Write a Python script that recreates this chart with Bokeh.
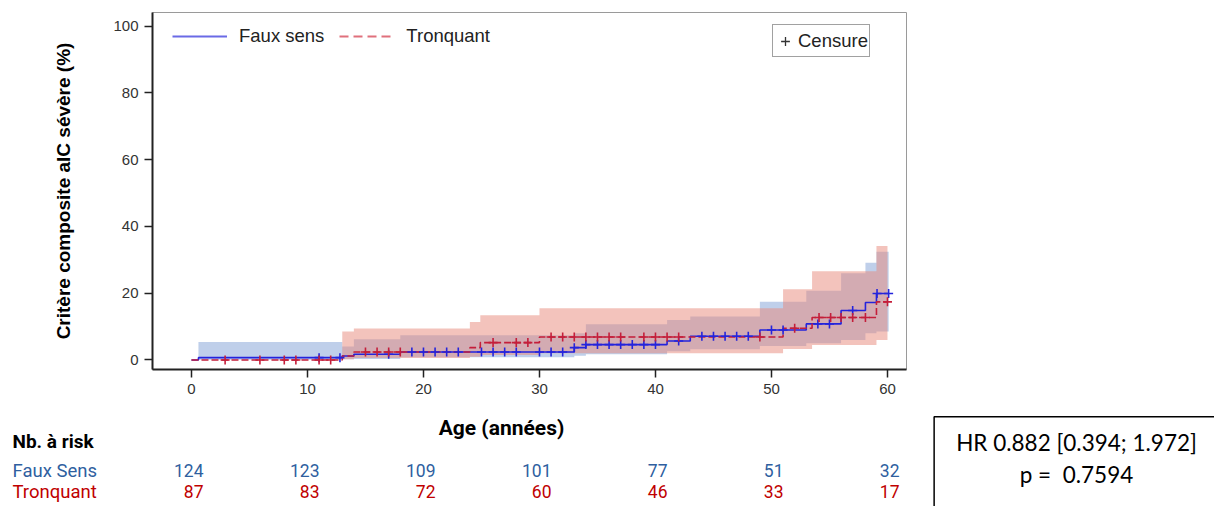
import numpy as np
from bokeh.plotting import figure
from bokeh.models import Legend, LegendItem, Label, Range1d, FixedTicker
from bokeh.embed import file_html
from bokeh.resources import INLINE

# ---------------- data ----------------
# Faux sens: cumulative incidence (%) step function with 95% CI
fs_t  = [0, 0.6, 13, 14, 18, 33, 34, 41, 43, 49, 53, 56, 58.1, 59.05]
fs_km = [0, 0.7, 1.2, 1.7, 2.4, 3.7, 4.6, 5.7, 7.1, 9.0, 10.8, 14.8, 17.2, 19.9]
fs_lo = [0, 0.1, 0.2, 0.3, 0.8, 1.3, 1.7, 2.6, 3.2, 4.2, 5.0, 6.0, 8.0, 8.5]
fs_hi = [0, 5.4, 4.0, 6.2, 7.4, 8.0, 10.7, 12.0, 13.0, 17.4, 20.7, 26.0, 29.1, 32.4]
fs_end = 60.1
fs_cens = [11, 12.8, 17, 19, 20, 21, 22, 23, 25, 26, 27, 28, 30, 31, 32, 33, 34,
           35, 36, 37, 38, 39, 40, 42, 44, 45, 46, 47, 48, 50, 51, 54, 55, 57, 59.1, 60.1]

# Tronquant
tr_t  = [0, 13, 14, 24, 24.9, 30, 51, 53.5, 59.05]
tr_km = [0, 1.2, 2.4, 3.7, 5.2, 6.9, 9.5, 12.7, 17.4]
tr_lo = [0, 0.2, 0.6, 1.0, 1.5, 2.0, 3.3, 4.5, 6.0]
tr_hi = [0, 8.5, 9.4, 11.4, 13.4, 15.5, 21.2, 26.6, 34.1]
tr_end = 60.0
tr_cens = [2.9, 5.9, 8.0, 9.0, 11.0, 12.0, 15, 16, 17, 18, 26, 28, 29, 31, 32, 33,
           34, 35, 36, 37, 39, 40, 41, 42, 49, 52, 54.1, 55.1, 56.0, 57.0, 58.1, 60.0]

# Number at risk
risk_times = [0, 10, 20, 30, 40, 50, 60]
fs_risk = [124, 123, 109, 101, 77, 51, 32]
tr_risk = [87, 83, 72, 60, 46, 33, 17]

x_ticks = [0, 10, 20, 30, 40, 50, 60]
y_ticks = [0, 20, 40, 60, 80, 100]

# ---------------- styles / layout ----------------
BLUE = "#2424dc"
RED = "#c41e3a"
BLUE_FILL = "#7f9fd6"
RED_FILL = "#e8887a"
TXT_BLUE = "#2f5f9f"
TXT_RED = "#c00000"
NARROW = "Roboto"
SANS = "Liberation Sans"

W = 1214
H_TOP, H_BOT = 405, 101
FL, FR, FT, FB = 152, 906, 12, 369   # frame edges on the top canvas
X0, X1 = -3.36, 61.64
px_per_x = (FR - FL) / (X1 - X0)

p = figure(width=W, height=H_TOP, x_range=Range1d(X0, X1), y_range=Range1d(-2.85, 104.05),
           output_backend="svg", toolbar_location=None,
           min_border_left=FL, min_border_right=W - FR, min_border_top=FT,
           min_border_bottom=H_TOP - FB)
p.xgrid.visible = False
p.ygrid.visible = False
p.outline_line_color = "#9a9a9a"
p.outline_line_width = 1

for ax in (p.xaxis[0], p.yaxis[0]):
    ax.axis_line_color = "#222222"
    ax.axis_line_width = 2
    ax.major_tick_line_color = "#222222"
    ax.major_tick_line_width = 1.5
    ax.major_tick_out = 8
    ax.major_tick_in = 0
    ax.minor_tick_line_color = None
    ax.major_label_text_font = SANS
    ax.major_label_text_font_size = "15px"
    ax.major_label_text_color = "#333333"
    ax.major_label_standoff = 6

p.xaxis.ticker = FixedTicker(ticks=x_ticks)
p.yaxis.ticker = FixedTicker(ticks=y_ticks)
p.yaxis.axis_label = "Critère composite aIC sévère (%)"
p.yaxis.axis_label_text_font = SANS
p.yaxis.axis_label_text_font_style = "bold"
p.yaxis.axis_label_text_font_size = "19px"
p.yaxis.axis_label_text_color = "black"
p.yaxis.axis_label_standoff = 36


def step_xy(t, v, end):
    return list(t) + [end], list(v) + [v[-1]]


# CI bands
x, lo = step_xy(fs_t, fs_lo, fs_end)
_, hi = step_xy(fs_t, fs_hi, fs_end)
p.varea_step(x=x[1:], y1=lo[1:], y2=hi[1:], step_mode="after", fill_color=BLUE_FILL, fill_alpha=0.5)
x, lo = step_xy(tr_t, tr_lo, tr_end)
_, hi = step_xy(tr_t, tr_hi, tr_end)
p.varea_step(x=x, y1=lo, y2=hi, step_mode="after", fill_color=RED_FILL, fill_alpha=0.5)

# KM step lines
x, y = step_xy(fs_t, fs_km, fs_end)
p.step(x=x, y=y, mode="after", line_color=BLUE, line_width=1.6)
x, y = step_xy(tr_t, tr_km, tr_end)
p.step(x=x, y=y, mode="after", line_color=RED, line_width=1.6, line_dash="7 3")


def cens_y(t, v, c):
    idx = np.searchsorted(np.array(t), np.array(c), side="right") - 1
    return list(np.array(v)[idx])


p.scatter(x=fs_cens, y=cens_y(fs_t, fs_km, fs_cens), marker="cross", size=9,
          line_color=BLUE, line_width=1.6)
p.scatter(x=tr_cens, y=cens_y(tr_t, tr_km, tr_cens), marker="cross", size=9,
          line_color=RED, line_width=1.6)

# Legends (proxy renderers with no visible data)
nan = [float("nan")]
r_fs = p.line(x=nan, y=nan, line_color="#6a6ae6", line_width=2)
r_tr = p.line(x=nan, y=nan, line_color="#e0707c", line_width=2, line_dash="9 5")
leg1 = Legend(items=[LegendItem(label="Faux sens", renderers=[r_fs]),
                     LegendItem(label="Tronquant", renderers=[r_tr])],
              location=(20, 322), orientation="horizontal",
              border_line_color=None, background_fill_alpha=0,
              glyph_width=55, label_standoff=12, spacing=15, padding=5,
              label_text_font=SANS, label_text_font_size="18.5px", label_text_color="#222222")
p.add_layout(leg1)

r_c = p.scatter(x=nan, y=nan, marker="cross", size=14, line_color="#333333", line_width=1.3)
leg2 = Legend(items=[LegendItem(label="Censure", renderers=[r_c])],
              location=(620, 312), orientation="vertical",
              border_line_color="#444444", border_line_width=1, background_fill_color="white",
              glyph_width=22, glyph_height=22, label_height=29, label_standoff=2, padding=1,
              label_text_font=SANS, label_text_font_size="18.5px", label_text_color="#222222")
p.add_layout(leg2)

# ---------------- bottom panel: axis title, number at risk, HR box ----------------
# same horizontal data scale as the plot above; frame spans the whole canvas
b = figure(width=W, height=H_BOT,
           x_range=Range1d(X0 - FL / px_per_x, X1 + (W - FR) / px_per_x),
           y_range=Range1d(0, H_BOT), output_backend="svg", toolbar_location=None,
           x_axis_type=None, y_axis_type=None,
           min_border_left=0, min_border_right=0, min_border_top=0, min_border_bottom=0)
b.xgrid.visible = False
b.ygrid.visible = False
b.outline_line_color = None


def by(canvas_y):
    return H_TOP + H_BOT - canvas_y


b.add_layout(Label(x=501, y=by(427), x_units="screen", y_units="screen",
                   text="Age (années)", text_font=NARROW, text_font_style="bold",
                   text_font_size="21px", text_align="center", text_baseline="middle",
                   text_color="black"))
b.add_layout(Label(x=12, y=by(441), x_units="screen", y_units="screen",
                   text="Nb. à risk", text_font=NARROW, text_font_style="bold",
                   text_font_size="19px", text_baseline="middle", text_color="black"))
for name, vals, col, cy in (("Faux Sens", fs_risk, TXT_BLUE, 470), ("Tronquant", tr_risk, TXT_RED, 491)):
    b.add_layout(Label(x=12, y=by(cy), x_units="screen", y_units="screen",
                       text=name, text_font=NARROW, text_font_size="18.5px",
                       text_baseline="middle", text_color=col))
    for t, v in zip(risk_times, vals):
        b.add_layout(Label(x=t, y=by(cy), x_units="data", y_units="screen", x_offset=12,
                           text=str(v), text_font=NARROW, text_font_size="17.5px",
                           text_align="right", text_baseline="middle", text_color=col))

b.add_layout(Label(x=1085, y=by(472), x_units="screen", y_units="screen",
                   text="HR 0.882 [0.394; 1.972]\np =\u00a0 0.7594", text_font="Lato",
                   text_font_size="22.5px", text_align="center", text_baseline="middle",
                   text_color="black", border_line_color="black", border_line_width=1.5,
                   padding=dict(left=22, right=40, top=12, bottom=40)))

open("out.html", "w").write(file_html([p, b], INLINE))
